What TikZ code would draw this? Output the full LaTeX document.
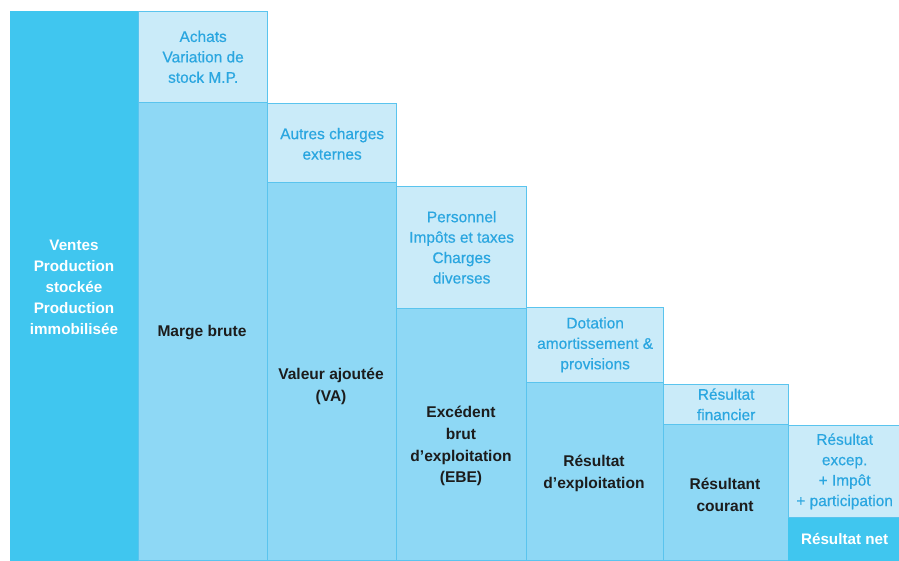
\documentclass[tikz,border=0pt]{standalone}
\usepackage{fontspec}
\setmainfont{Liberation Sans}
\newfontfamily\captionface[FakeBold=0.5]{Liberation Sans}
\begin{document}
\definecolor{deepcyan}{HTML}{40C6EF}
\definecolor{midcyan}{HTML}{8ED8F5}
\definecolor{palecyan}{HTML}{CAEBF9}
\definecolor{edgecyan}{HTML}{5AC4EE}
\definecolor{labelblue}{HTML}{2AA6E0}
\definecolor{inkdark}{HTML}{1C1C1C}
\begin{tikzpicture}[x=1bp,y=1bp,
  bar/.style={draw=edgecyan,line width=1.3bp,inner sep=0pt,anchor=south west},
  deepbar/.style={bar,fill=deepcyan,draw=deepcyan},
  midbar/.style={bar,fill=midcyan},
  capbox/.style={bar,fill=palecyan},
  txt/.style={align=center,inner sep=0pt},
  captxt/.style={txt,text=labelblue,font=\captionface\fontsize{15.5}{20.5}\selectfont},
  bodytxt/.style={txt,text=inkdark,font=\fontsize{15.6}{22}\selectfont\bfseries},
  whitetxt/.style={txt,text=white,font=\fontsize{15.3}{21}\selectfont\bfseries}]
\useasboundingbox (0,0) rectangle (899,561);
% first column: sales and production
\node[deepbar,minimum width=128bp,minimum height=549bp] (c0) at (10,0) {};
% column 1
\node[midbar,minimum width=129bp,minimum height=458bp] (m1) at (138,0) {};
\node[capbox,minimum width=129bp,minimum height=91bp] (t1) at (138,458) {};
% column 2
\node[midbar,minimum width=129bp,minimum height=378bp] (m2) at (267,0) {};
\node[capbox,minimum width=129bp,minimum height=79bp] (t2) at (267,378) {};
% column 3
\node[midbar,minimum width=130bp,minimum height=252bp] (m3) at (396,0) {};
\node[capbox,minimum width=130bp,minimum height=122bp] (t3) at (396,252) {};
% column 4
\node[midbar,minimum width=137bp,minimum height=178bp] (m4) at (526,0) {};
\node[capbox,minimum width=137bp,minimum height=75bp] (t4) at (526,178) {};
% column 5
\node[midbar,minimum width=125bp,minimum height=136bp] (m5) at (663,0) {};
\node[capbox,minimum width=125bp,minimum height=40bp] (t5) at (663,136) {};
% column 6
\node[deepbar,minimum width=112bp,minimum height=43bp] (m6) at (788,0) {};
\node[capbox,minimum width=112bp,minimum height=92bp] (t6) at (788,43) {};

% labels of the deducted items
\node[captxt] (l1) at (t1.center) {Achats\\Variation de\\stock M.P.};
\node[captxt] (l2) at ([yshift=-1bp]t2.center) {Autres charges\\externes};
\node[captxt] (l3) at (t3.center) {Personnel\\Impôts et taxes\\Charges\\diverses};
\node[captxt] (l4) at (t4.center) {Dotation\\amortissement \&\\provisions};
\node[captxt] (l5) at (t5.center) {Résultat\\financier};
\node[captxt] (l6) at (t6.center) {Résultat\\excep.\\+ Impôt\\+ participation};

% labels of the intermediate balances
\node[whitetxt] (v0) at (74,274) {Ventes\\Production\\stockée\\Production\\immobilisée};
\node[bodytxt] (v1) at (202,228) {Marge brute};
\node[bodytxt] (v2) at (331,175) {Valeur ajoutée\\(VA)};
\node[bodytxt] (v3) at (461,115) {Excédent\\brut\\d’exploitation\\(EBE)};
\node[bodytxt] (v4) at (594,88) {Résultat\\d’exploitation};
\node[bodytxt] (v5) at (725,66) {Résultant\\courant};
\node[whitetxt] (v6) at (m6.center) {Résultat net};
\end{tikzpicture}
\end{document}
